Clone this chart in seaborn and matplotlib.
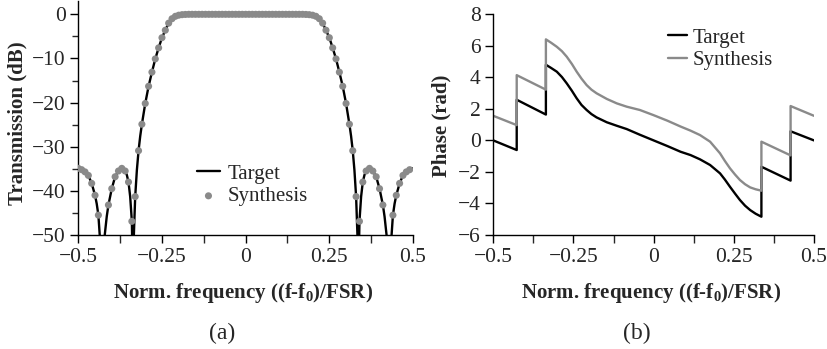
import numpy as np
import pandas as pd
import matplotlib
matplotlib.use("Agg")
import matplotlib.pyplot as plt
from matplotlib.ticker import MultipleLocator, FixedLocator
import seaborn as sns

# ---------------- data: panel (a) ----------------
synth_freq = np.round(np.arange(-0.50, 0.495, 0.01), 2)
synth_db = [
    -34.9, -35.2, -35.7, -36.5, -38.3, -41.0, -45.5, -62.0, -51.5, -43.2,
    -39.5, -36.8, -35.5, -34.9, -35.5, -38.0, -46.9, -41.3, -30.9, -24.9,
    -20.2, -16.3, -13.1, -10.1, -7.6, -5.3, -3.6, -2.0, -1.0, -0.45,
    -0.2, -0.08, -0.03,
    0.0, 0.0, 0.0, 0.0, 0.0, 0.0, 0.0, 0.0, 0.0, 0.0, 0.0, 0.0, 0.0, 0.0, 0.0,
    0.0, 0.0, 0.0, 0.0, 0.0, 0.0, 0.0, 0.0, 0.0, 0.0, 0.0, 0.0, 0.0, 0.0, 0.0,
    0.0, 0.0, 0.0, 0.0, 0.0,
    -0.03, -0.08, -0.2, -0.45, -1.0, -2.0, -3.6, -5.3, -7.6, -10.1,
    -13.1, -16.3, -20.2, -24.9, -30.9, -41.3, -46.9, -38.0, -35.5, -34.9,
    -35.5, -36.8, -39.5, -43.2, -51.5, -62.0, -45.5, -41.0, -38.3, -36.5,
    -35.7, -35.2,
]

target_freq = [
    -0.500, -0.490, -0.480, -0.470, -0.460, -0.450, -0.445, -0.440, -0.436, -0.432,
    -0.429, -0.425, -0.421, -0.415, -0.410, -0.400, -0.390, -0.380, -0.370, -0.365,
    -0.360, -0.355, -0.350, -0.345, -0.340, -0.337, -0.334, -0.330, -0.325, -0.320,
    -0.315, -0.310, -0.300, -0.290, -0.280, -0.270, -0.260, -0.250, -0.240, -0.230,
    -0.220, -0.210, -0.200, -0.190, -0.180, -0.150, 0.000,
    0.150, 0.180, 0.190, 0.200, 0.210, 0.220, 0.230, 0.240, 0.250, 0.260,
    0.270, 0.280, 0.290, 0.300, 0.310, 0.315, 0.320, 0.325, 0.330, 0.334,
    0.337, 0.340, 0.345, 0.350, 0.355, 0.360, 0.365, 0.370, 0.380, 0.390,
    0.400, 0.410, 0.415, 0.421, 0.425, 0.429, 0.432, 0.436, 0.440, 0.445,
    0.450, 0.460, 0.470, 0.480, 0.490, 0.500,
]
target_db = [
    -34.9, -35.2, -35.7, -36.5, -38.3, -41.0, -42.9, -45.5, -50.0, -58.0,
    -62.0, -55.0, -50.0, -45.8, -43.2, -39.5, -36.8, -35.5, -34.9, -35.0,
    -35.5, -36.4, -38.0, -41.3, -46.9, -60.0, -50.0, -41.3, -35.3, -30.9,
    -27.6, -24.9, -20.2, -16.3, -13.1, -10.1, -7.6, -5.3, -3.6, -2.0,
    -1.0, -0.45, -0.2, -0.08, -0.03, 0.0, 0.0,
    0.0, -0.03, -0.08, -0.2, -0.45, -1.0, -2.0, -3.6, -5.3, -7.6,
    -10.1, -13.1, -16.3, -20.2, -24.9, -27.6, -30.9, -35.3, -41.3, -50.0,
    -60.0, -46.9, -41.3, -38.0, -36.4, -35.5, -35.0, -34.9, -35.5, -36.8,
    -39.5, -43.2, -45.8, -50.0, -55.0, -62.0, -58.0, -50.0, -45.5, -42.9,
    -41.0, -38.3, -36.5, -35.7, -35.2, -34.9,
]

# ---------------- data: panel (b) ----------------
phase_freq = [
    -0.500, -0.427, -0.427, -0.336, -0.336, -0.320, -0.302, -0.286, -0.271, -0.255,
    -0.240, -0.225, -0.209, -0.194, -0.178, -0.146, -0.115, -0.084, -0.043, 0.000,
    0.043, 0.084, 0.115, 0.1445, 0.176, 0.207, 0.222, 0.238, 0.254, 0.269,
    0.285, 0.301, 0.318, 0.336, 0.336, 0.427, 0.427, 0.500,
]
target_phase = [
    0.00, -0.61, 2.58, 1.64, 4.80, 4.60, 4.36, 4.02, 3.62, 3.15,
    2.67, 2.25, 1.93, 1.67, 1.46, 1.15, 0.93, 0.72, 0.36, 0.00,
    -0.36, -0.72, -0.93, -1.20, -1.56, -2.09, -2.48, -2.94, -3.38, -3.78,
    -4.14, -4.42, -4.65, -4.84, -1.67, -2.55, 0.58, 0.00,
]
synth_phase = [
    1.56, 0.97, 4.14, 3.22, 6.41, 6.20, 5.94, 5.66, 5.31, 4.85,
    4.36, 3.92, 3.51, 3.22, 2.99, 2.63, 2.35, 2.14, 1.93, 1.60,
    1.25, 0.88, 0.62, 0.34, -0.08, -0.82, -1.30, -1.77, -2.17, -2.51,
    -2.78, -2.98, -3.10, -3.19, -0.08, -0.95, 2.18, 1.56,
]

xtick_vals = [-0.5, -0.25, 0, 0.25, 0.5]
xtick_labels = ["\u22120.5", "\u22120.25", "0", "0.25", "0.5"]

# ---------------- style ----------------
sns.set_style("ticks")
plt.rcParams["font.family"] = ["Liberation Serif", "DejaVu Serif"]
plt.rcParams["mathtext.fontset"] = "custom"
plt.rcParams["mathtext.rm"] = "Liberation Serif:bold"
plt.rcParams["mathtext.it"] = "Liberation Serif:bold"
plt.rcParams["mathtext.bf"] = "Liberation Serif:bold"
plt.rcParams["axes.unicode_minus"] = True

FS = 15
TFS = 15.5
GRAY = "#8a8a8a"

fig = plt.figure(figsize=(8.28, 3.49), dpi=100)
W, H = 828.0, 349.0

def px_axes(x0, x1, ytop, ybot):
    return fig.add_axes([x0 / W, 1 - ybot / H, (x1 - x0) / W, (ybot - ytop) / H])

ax1 = px_axes(78.3, 413.0, 1.07, 235.0)
ax2 = px_axes(493.3, 814.0, 14.3, 235.0)

df_t = pd.DataFrame({"f": target_freq, "T": target_db})
df_s = pd.DataFrame({"f": synth_freq, "T": synth_db})
sns.lineplot(data=df_t, x="f", y="T", ax=ax1, color="black", lw=1.7,
             estimator=None, sort=False, label="Target")
sns.scatterplot(data=df_s, x="f", y="T", ax=ax1, color=GRAY, s=26,
                edgecolor="none", linewidth=0, label="Synthesis", zorder=3)

df_p = pd.DataFrame({"f": phase_freq, "t": target_phase, "s": synth_phase})
sns.lineplot(data=df_p, x="f", y="t", ax=ax2, color="black", lw=1.7,
             estimator=None, sort=False, label="Target")
sns.lineplot(data=df_p, x="f", y="s", ax=ax2, color=GRAY, lw=1.7,
             estimator=None, sort=False, label="Synthesis")

for ax in (ax1, ax2):
    sns.despine(ax=ax)
    ax.set_xlim(-0.5, 0.5)
    ax.set_xticks(xtick_vals)
    ax.set_xticklabels(xtick_labels)
    ax.xaxis.set_minor_locator(MultipleLocator(0.125))
    ax.tick_params(axis="both", which="major", direction="out", length=6,
                   width=1.0, labelsize=TFS, pad=3, color="black")
    ax.tick_params(axis="x", which="minor", direction="out", length=6, width=1.0)
    for sp in ("left", "bottom"):
        ax.spines[sp].set_linewidth(1.0)
        ax.spines[sp].set_color("black")
    ax.set_xlabel("Norm. frequency ((f-f$_{0}$)/FSR)", fontsize=FS, fontweight="bold")

ax1.set_ylim(-50, 3)
ax1.set_yticks([-50, -40, -30, -20, -10, 0])
ax1.set_yticklabels(["\u221250", "\u221240", "\u221230", "\u221220", "\u221210", "0"])
ax1.yaxis.set_minor_locator(FixedLocator([-45, -35, -25, -15, -5]))
ax1.tick_params(axis="y", which="minor", direction="out", length=4, width=1.0)
ax1.set_ylabel("Transmission (dB)", fontsize=FS, fontweight="bold")
ax1.yaxis.set_label_coords(-0.152, 0.479)
ax1.xaxis.set_label_coords(0.493, -0.197)

ax2.set_ylim(-6, 8)
ax2.set_yticks([-6, -4, -2, 0, 2, 4, 6, 8])
ax2.set_yticklabels(["\u22126", "\u22124", "\u22122", "0", "2", "4", "6", "8"])
ax2.set_ylabel("Phase (rad)", fontsize=FS, fontweight="bold")
ax2.yaxis.set_label_coords(-0.130, 0.494)
ax2.xaxis.set_label_coords(0.491, -0.208)

leg1 = ax1.legend(loc="upper left", bbox_to_anchor=(197 / W, 1 - 164 / H),
                  bbox_transform=fig.transFigure, frameon=False, fontsize=FS,
                  handlelength=1.1, handletextpad=0.35, labelspacing=0.15,
                  borderpad=0, borderaxespad=0, markerscale=1.0)
leg2 = ax2.legend(loc="upper left", bbox_to_anchor=(668 / W, 1 - 28 / H),
                  bbox_transform=fig.transFigure, frameon=False, fontsize=FS,
                  handlelength=0.9, handletextpad=0.3, labelspacing=0.15,
                  borderpad=0, borderaxespad=0)

fig.text(222.5 / W, 1 - 333 / H, "(a)", fontsize=17, ha="center", va="center")
fig.text(636.7 / W, 1 - 333 / H, "(b)", fontsize=17, ha="center", va="center")

fig.savefig("out.png", dpi=100)
